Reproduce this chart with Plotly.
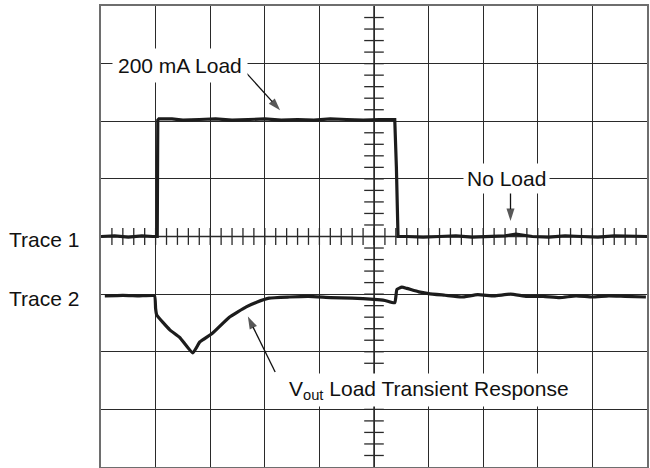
import plotly.graph_objects as go

# Trace 1: load current step (in screen divisions)
t1_x = [0.0, 0.25, 0.5, 0.75, 0.95, 1.03, 1.04, 1.06, 1.3, 1.5, 1.8, 2.1, 2.4, 2.7, 3.0, 3.3, 3.6, 3.9, 4.2, 4.5, 4.8, 5.1, 5.38, 5.41, 5.44,
        5.6, 5.9, 6.2, 6.5, 6.8, 7.1, 7.4, 7.6, 7.9, 8.2, 8.5, 8.8, 9.1, 9.4, 9.7, 10.0]
t1_y = [0.0, 0.01, -0.01, 0.01, 0.0, 0.0, 2.02, 2.04, 2.04, 2.02, 2.03, 2.04, 2.02, 2.03, 2.04, 2.02, 2.03, 2.02, 2.04, 2.03, 2.02, 2.03, 2.03, 1.2, 0.0,
        0.0, -0.01, 0.0, 0.01, -0.01, 0.0, 0.01, 0.04, 0.0, -0.01, 0.01, 0.0, -0.01, 0.01, 0.0, 0.0]

# Trace 2: Vout load transient response
t2_x = [0.07, 0.4, 0.7, 0.98, 1.0, 1.02, 1.26, 1.44, 1.68, 1.81, 2.04, 2.35, 2.66, 2.85, 3.08, 3.45, 3.8, 4.2, 4.6, 5.0, 5.2, 5.38, 5.42,
        5.51, 5.6, 5.82, 6.0, 6.3, 6.6, 6.9, 7.2, 7.5, 7.8, 8.1, 8.4, 8.7, 9.0, 9.3, 9.6, 9.98]
t2_y = [-1.03, -1.02, -1.03, -1.03, -1.25, -1.36, -1.62, -1.75, -2.02, -1.83, -1.68, -1.40, -1.22, -1.14, -1.07, -1.05, -1.04, -1.06, -1.07, -1.09, -1.11, -1.15, -0.92,
        -0.88, -0.9, -0.96, -0.99, -1.02, -1.05, -1.01, -1.03, -1.0, -1.04, -1.04, -1.06, -1.03, -1.05, -1.03, -1.04, -1.05]

# Minor graticule ticks on the center lines
minor_x = [i * 0.2 for i in range(1, 50)]
minor_y = [-4 + i * 0.2 for i in range(1, 40)]

# Callout arrows: (tail x, tip x), (tail y, tip y)
arrow_load_x, arrow_load_y = [2.66, 3.28], [2.84, 2.19]
arrow_noload_x, arrow_noload_y = [7.5, 7.5], [0.81, 0.27]
arrow_vout_x, arrow_vout_y = [3.19, 2.69], [-2.35, -1.39]

trace_color = "#1c1c1c"
grid_color = "#2a2a2a"
font_family = "Liberation Sans, Arial, sans-serif"

fig = go.Figure()

fig.add_trace(go.Scatter(x=minor_x, y=[0] * len(minor_x), mode="markers",
                         marker=dict(symbol="line-ns", size=12, line=dict(width=1.3, color=grid_color)),
                         hoverinfo="skip", showlegend=False))
fig.add_trace(go.Scatter(x=[5] * len(minor_y), y=minor_y, mode="markers",
                         marker=dict(symbol="line-ew", size=14, line=dict(width=1.3, color=grid_color)),
                         hoverinfo="skip", showlegend=False))

fig.add_trace(go.Scatter(x=t1_x, y=t1_y, mode="lines",
                         line=dict(color=trace_color, width=3.2), showlegend=False))
fig.add_trace(go.Scatter(x=t2_x, y=t2_y, mode="lines", line_shape="spline",
                         line=dict(color=trace_color, width=3.2, smoothing=0.4), showlegend=False))

for ax_, ay_ in [(arrow_load_x, arrow_load_y), (arrow_noload_x, arrow_noload_y), (arrow_vout_x, arrow_vout_y)]:
    fig.add_trace(go.Scatter(x=ax_, y=ay_, mode="lines+markers",
                             line=dict(color="#111", width=1.3),
                             marker=dict(symbol="arrow", size=[0, 13], angleref="previous", color="#111",
                                         line=dict(width=0)),
                             hoverinfo="skip", showlegend=False))

# Center lines (slightly heavier)
fig.add_shape(type="line", x0=0, x1=10, y0=0, y1=0, line=dict(color=grid_color, width=1.5), layer="below")
fig.add_shape(type="line", x0=5, x1=5, y0=-4, y1=4, line=dict(color=grid_color, width=1.5), layer="below")

txt = dict(family=font_family, size=21, color="#111")

annotations = [
    dict(x=1.45, y=2.97, text="200 mA Load", showarrow=False, bgcolor="white", borderpad=5, font=txt),
    dict(x=7.43, y=1.0, text="No Load", showarrow=False, bgcolor="white", borderpad=3, font=txt),
    dict(x=6.0, y=-2.66, text="V<sub>out</sub> Load Transient Response", showarrow=False,
         bgcolor="white", borderpad=3, font=txt),
    dict(x=0, y=0, xref="paper", yref="y", xanchor="right", xshift=-20, yshift=-3,
         text="Trace 1", showarrow=False, font=txt),
    dict(x=0, y=-1, xref="paper", yref="y", xanchor="right", xshift=-20, yshift=-4,
         text="Trace 2", showarrow=False, font=txt),
]

fig.update_layout(
    width=650, height=468,
    margin=dict(l=101, r=1, t=6, b=1),
    paper_bgcolor="white", plot_bgcolor="white",
    annotations=annotations,
    font=dict(family=font_family),
    xaxis=dict(range=[0, 10], dtick=1, tick0=0, showgrid=True, gridcolor=grid_color, gridwidth=1.3,
               zeroline=False, showticklabels=False, ticks="", showline=True, mirror=True,
               linecolor="#6e6e6e", linewidth=2, fixedrange=True),
    yaxis=dict(range=[-4, 4], dtick=1, tick0=0, showgrid=True, gridcolor=grid_color, gridwidth=1.3,
               zeroline=False, showticklabels=False, ticks="", showline=True, mirror=True,
               linecolor="#6e6e6e", linewidth=2, fixedrange=True),
)

fig.write_html("out.html", config={"displayModeBar": False},
               post_script="document.body.style.margin='0';")
